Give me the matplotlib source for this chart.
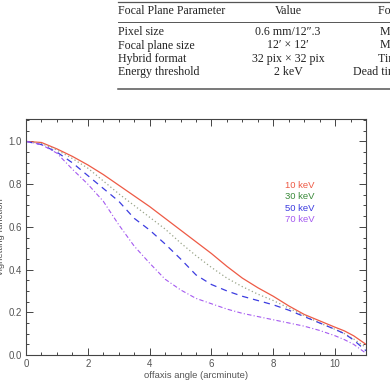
import numpy as np
import matplotlib
matplotlib.use("Agg")
import matplotlib.pyplot as plt
from matplotlib.lines import Line2D
from matplotlib.ticker import MultipleLocator

# off-axis angle (arcmin) and vignetting for each energy
angle = [0, 0.5, 1, 1.5, 2, 2.5, 3, 3.5, 4, 4.5, 5, 5.5, 6, 6.5, 7, 7.5, 8, 8.5, 9, 9.5, 10, 10.3, 10.6, 11]
vig_10 = [1.0, 0.995, 0.965, 0.93, 0.89, 0.845, 0.795, 0.745, 0.695, 0.64, 0.585, 0.53, 0.475, 0.415, 0.36,
          0.315, 0.275, 0.23, 0.19, 0.16, 0.13, 0.113, 0.09, 0.05]
vig_30 = [1.0, 0.99, 0.96, 0.92, 0.875, 0.815, 0.755, 0.70, 0.645, 0.59, 0.525, 0.465, 0.41, 0.36, 0.32, 0.285,
          0.255, 0.22, 0.185, 0.15, 0.12, 0.10, 0.075, 0.035]
vig_50 = [1.0, 0.985, 0.95, 0.90, 0.84, 0.78, 0.72, 0.64, 0.585, 0.52, 0.45, 0.375, 0.33, 0.30, 0.275, 0.255,
          0.235, 0.21, 0.18, 0.15, 0.12, 0.10, 0.07, 0.02]
vig_70 = [1.0, 0.985, 0.945, 0.87, 0.80, 0.72, 0.61, 0.51, 0.43, 0.355, 0.305, 0.265, 0.24, 0.215, 0.195, 0.18,
          0.165, 0.15, 0.135, 0.115, 0.09, 0.072, 0.05, 0.008]
energies = ["10 keV", "30 keV", "50 keV", "70 keV"]

# table text above the plot (cropped from the page)
table_header = ["Focal Plane Parameter", "Value", "Focal Plane Electronics"]
table_params = ["Pixel size", "Focal plane size", "Hybrid format", "Energy threshold"]
table_values = ["0.6 mm/12\u2033.3", "12\u2032 \u00d7 12\u2032", "32 pix \u00d7 32 pix", "2 keV"]
table_third = ["Max. count rate", "Module size", "Time resolution", "Dead time"]

fig = plt.figure(figsize=(3.9, 3.81), dpi=100)

serif = "Liberation Serif"
sans = "Liberation Sans"
W, H = 390.0, 381.0
fx = lambda px: px / W
fy = lambda py: 1 - py / H

# table rules
fig.add_artist(Line2D([fx(118), 1], [fy(1.7), fy(1.7)], color="#555555", lw=0.9))
fig.add_artist(Line2D([fx(118), 1], [fy(21.5), fy(21.5)], color="#555555", lw=0.7))
fig.add_artist(Line2D([fx(118), 1], [fy(89.3), fy(89.3)], color="#555555", lw=1.1))

tsize = 8.6
fig.text(fx(118), fy(11.5), table_header[0], family=serif, fontsize=tsize, va="center", color="#222222")
fig.text(fx(288), fy(11.5), table_header[1], family=serif, fontsize=tsize, va="center", ha="center",
         color="#222222")
fig.text(fx(378), fy(11.5), table_header[2], family=serif, fontsize=tsize, va="center", color="#222222")
row_y = [32.3, 45.5, 58.8, 71.8]
third_x = [380, 380, 378, 352.7]
for i in range(4):
    fig.text(fx(118), fy(row_y[i]), table_params[i], family=serif, fontsize=tsize, va="center",
             color="#222222")
    fig.text(fx(288), fy(row_y[i]), table_values[i], family=serif, fontsize=tsize, va="center",
             ha="center", color="#222222")
    fig.text(fx(third_x[i]), fy(row_y[i]), table_third[i], family=serif, fontsize=tsize, va="center",
             color="#222222")

ax = fig.add_axes([fx(26), fy(355), fx(366) - fx(26), fy(119) - fy(355)])

colors = ["#ee5a45", "#9aa58a", "#3c3ce0", "#a55af0"]
text_colors = ["#ee5a45", "#3a8a3a", "#3c3ce0", "#a55af0"]
ax.plot(angle, vig_10, color=colors[0], lw=0.9, linestyle="-")
ax.plot(angle, vig_30, color=colors[1], lw=0.9, linestyle=(0, (1, 2)))
ax.plot(angle, vig_50, color=colors[2], lw=0.9, linestyle=(0, (5, 4)))
ax.plot(angle, vig_70, color=colors[3], lw=0.8, linestyle=(0, (4, 2, 1, 2)))

ax.set_xlim(0, 11)
ax.set_ylim(0, 1.105)
ax.xaxis.set_minor_locator(MultipleLocator(0.5))
ax.yaxis.set_minor_locator(MultipleLocator(0.05))
ax.set_xticks([0, 2, 4, 6, 8, 10])
ax.set_xticklabels(["0", "2", "4", "6", "8", "10"])
ax.set_yticks([0.0, 0.2, 0.4, 0.6, 0.8, 1.0])
ax.set_yticklabels(["0.0", "0.2", "0.4", "0.6", "0.8", "1.0"])
ax.tick_params(which="both", direction="in", top=True, right=True, colors="#444444",
               labelsize=7, width=0.7)
ax.tick_params(which="major", length=5, pad=3)
ax.tick_params(which="minor", length=2.5)
for lab in ax.get_xticklabels() + ax.get_yticklabels():
    lab.set_family(sans)
    lab.set_color("#555555")
for sp in ax.spines.values():
    sp.set_color("#444444")
    sp.set_linewidth(0.8)

fig.text(fx(196), fy(375.5), "offaxis angle (arcminute)", family=sans, fontsize=6.8, color="#555555",
         ha="center", va="center")
fig.text(fx(5.5), fy(237), "vignetting function", rotation=90, family=sans, fontsize=6.8,
         color="#555555", ha="right", va="center")

leg_y = [0.795, 0.741, 0.687, 0.634]
for i in range(4):
    ax.text(8.38, leg_y[i], energies[i], color=text_colors[i], fontsize=6.8, family=sans, va="center")

fig.savefig("out.png", dpi=100)
